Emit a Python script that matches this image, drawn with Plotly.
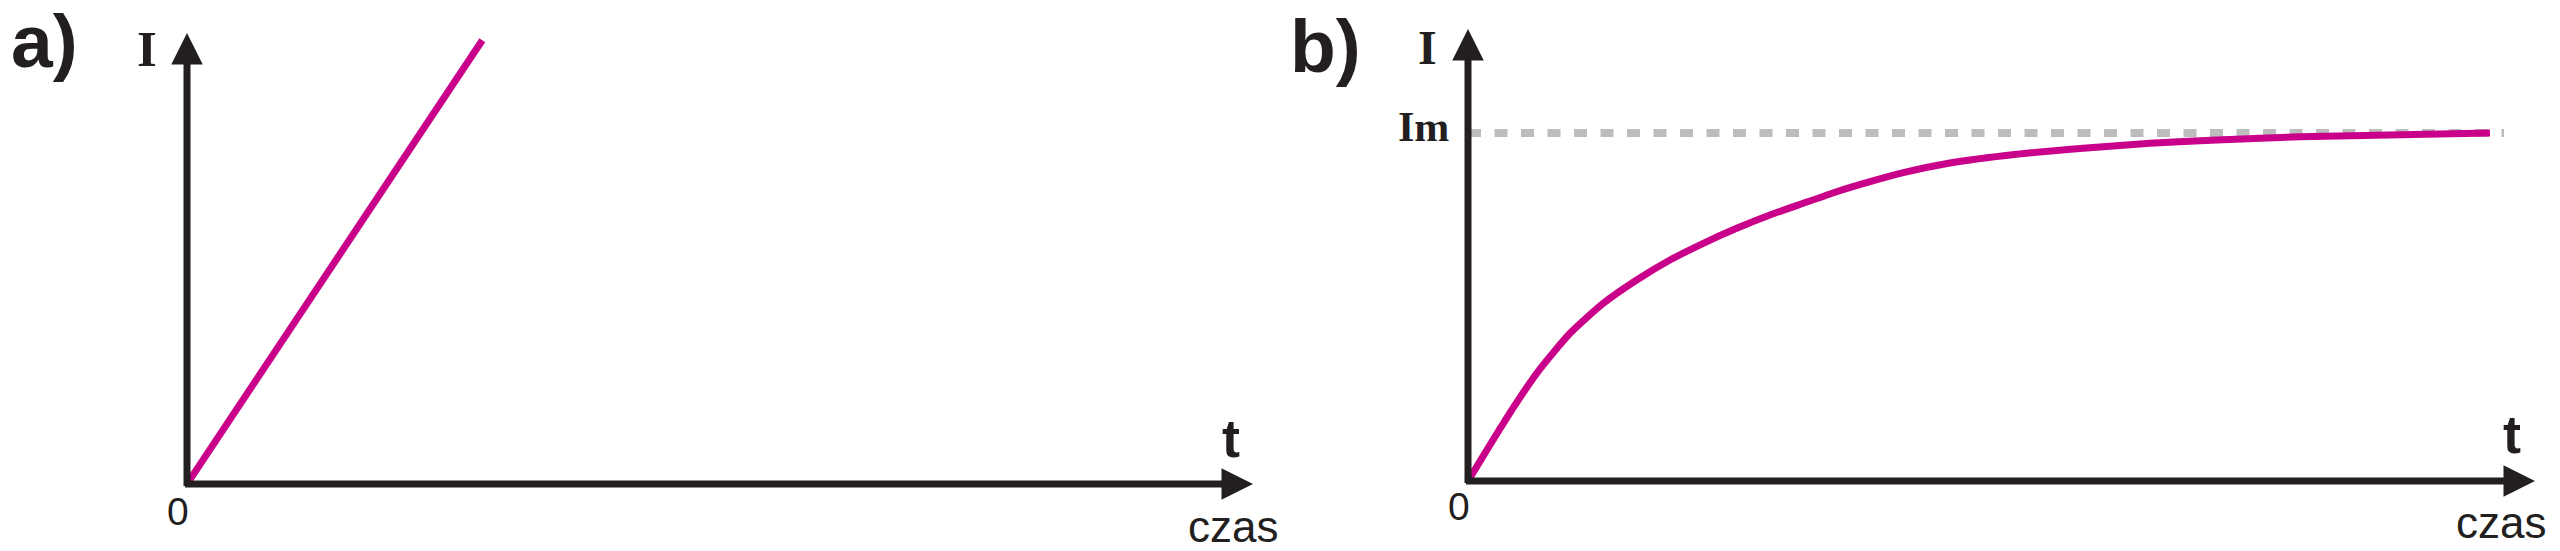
import plotly.graph_objects as go

# ---------------- data ----------------
# panel a: linear growth of current
line_a_t = [0.0, 2.77]
line_a_I = [0.0, 9.84]

# panel b: current approaching its maximum value Im
curve_b_t = [0.0, 0.331, 0.644, 0.956, 1.268, 1.581, 1.893, 2.205, 2.518, 2.830,
             3.142, 3.455, 3.768, 4.080, 4.517, 5.142, 5.764, 6.392, 7.017, 7.798,
             9.578]
curve_b_I = [0.0, 1.277, 2.383, 3.268, 3.931, 4.447, 4.889, 5.259, 5.591, 5.885,
             6.144, 6.400, 6.622, 6.821, 7.035, 7.228, 7.361, 7.471, 7.544, 7.617,
             7.699]
im_level = 7.70
im_dash_t = [0.0, 9.71]

# axis extents (data units)
T_MAX = 10.0
I_MAX = 10.0

# ---------------- style ----------------
W, H = 2560, 551
DARK = "#231f20"
MAGENTA = "#c9008a"
GRAY = "#bdbdbd"
SANS = "Liberation Sans, Arial, sans-serif"
SERIF = "Liberation Serif, Times New Roman, serif"


def px_x(p):
    return p / W


def px_y(p):
    return 1 - p / H


fig = go.Figure()

# dashed Im level (panel b)
fig.add_trace(go.Scatter(x=im_dash_t, y=[im_level] * len(im_dash_t), mode="lines",
                         line=dict(color=GRAY, width=8, dash="13px,13.5px"),
                         xaxis="x2", yaxis="y2", cliponaxis=False, hoverinfo="skip"))
# curves
fig.add_trace(go.Scatter(x=line_a_t, y=line_a_I, mode="lines",
                         line=dict(color=MAGENTA, width=7),
                         xaxis="x", yaxis="y", cliponaxis=False))
fig.add_trace(go.Scatter(x=curve_b_t, y=curve_b_I, mode="lines",
                         line=dict(color=MAGENTA, width=7, shape="spline", smoothing=0.6),
                         xaxis="x2", yaxis="y2", cliponaxis=False))

annotations = []


def axis_arrows(xr, yr, x_over, y_over):
    # horizontal axis (time)
    annotations.append(dict(x=T_MAX, y=0, ax=-x_over, ay=0, xref=xr, yref=yr,
                            axref=xr, ayref=yr, text="", showarrow=True,
                            arrowhead=2, arrowsize=0.9, arrowwidth=7,
                            arrowcolor=DARK, standoff=0))
    # vertical axis (current)
    annotations.append(dict(x=0, y=I_MAX, ax=0, ay=-y_over, xref=xr, yref=yr,
                            axref=xr, ayref=yr, text="", showarrow=True,
                            arrowhead=2, arrowsize=0.9, arrowwidth=7,
                            arrowcolor=DARK, standoff=0))


axis_arrows("x", "y", 0.033, 0.078)
axis_arrows("x2", "y2", 0.033, 0.078)


def label(text, px, py, size, family, bold=False):
    annotations.append(dict(x=px_x(px), y=px_y(py), xref="paper", yref="paper",
                            text=("<b>%s</b>" % text) if bold else text,
                            showarrow=False, xanchor="center", yanchor="middle",
                            font=dict(size=size, family=family, color=DARK)))


# panel a labels
label("a)", 44, 41, 75, SANS, bold=True)
label("I", 146.5, 49.5, 51, SERIF, bold=True)
label("0", 178, 511.5, 39, SANS)
label("t", 1231, 438, 54, SANS, bold=True)
label("czas", 1233, 526, 44, SANS)

# panel b labels
label("b)", 1325, 46, 75, SANS, bold=True)
label("I", 1427, 47, 48, SERIF, bold=True)
label("Im", 1423.5, 127, 42, SERIF, bold=True)
label("0", 1459, 506.5, 39, SANS)
label("t", 2512, 434, 54, SANS, bold=True)
label("czas", 2501, 522.5, 44, SANS)

hidden = dict(visible=False, showgrid=False, zeroline=False, fixedrange=True)

fig.update_layout(
    width=W, height=H, autosize=False,
    margin=dict(l=0, r=0, t=0, b=0, pad=0),
    paper_bgcolor="white", plot_bgcolor="white",
    showlegend=False,
    xaxis=dict(domain=[187 / W, 1253 / W], range=[0, T_MAX], anchor="y", **hidden),
    yaxis=dict(domain=[1 - 484 / H, 1 - 33 / H], range=[0, I_MAX], anchor="x", **hidden),
    xaxis2=dict(domain=[1468 / W, 2535 / W], range=[0, T_MAX], anchor="y2", **hidden),
    yaxis2=dict(domain=[1 - 481 / H, 1 - 29 / H], range=[0, I_MAX], anchor="x2", **hidden),
    annotations=annotations,
)

fig.write_html(
    "out.html",
    config={"displayModeBar": False, "staticPlot": True},
    post_script="document.body.style.margin='0';document.body.style.overflow='hidden';",
)
